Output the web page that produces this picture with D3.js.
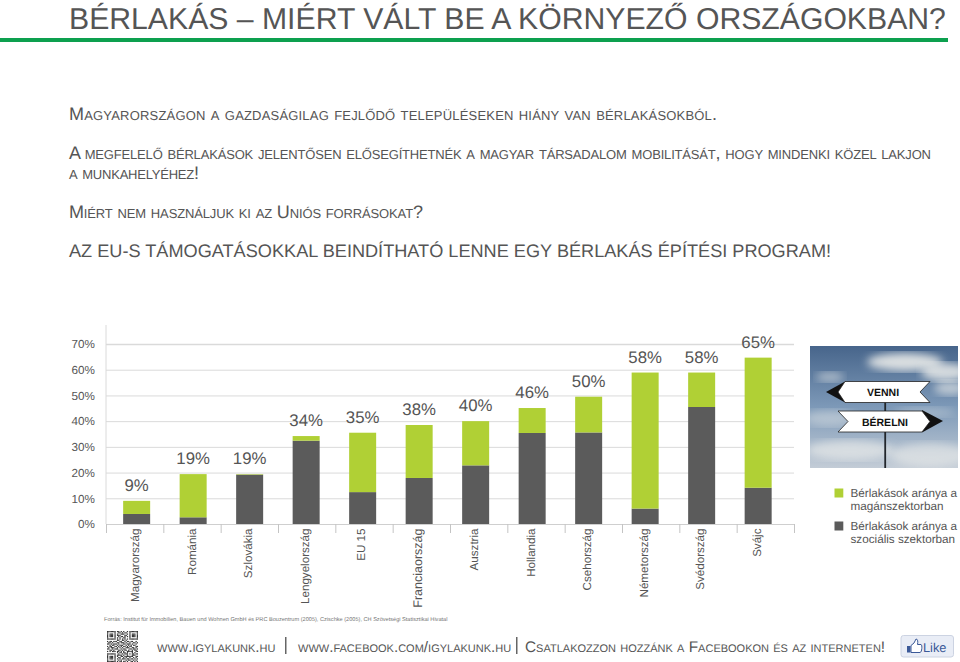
<!DOCTYPE html>
<html>
<head>
<meta charset="utf-8">
<script src="https://cdn.jsdelivr.net/npm/d3@7"></script>
<style>
body { margin: 0; background: #fff; overflow: hidden; }
text { font-family: "Liberation Sans", Arial, sans-serif; fill: #555; text-rendering: geometricPrecision; }
.caps { font-variant: small-caps; }
</style>
</head>
<body>
<script>
var categories = ["Magyarország", "Románia", "Szlovákia", "Lengyelország", "EU 15", "Franciaország",
    "Ausztria", "Hollandia", "Csehország", "Németország", "Svédország", "Svájc"];
var socialShare = [3.9, 2.6, 19.2, 32.4, 12.4, 17.9, 22.8, 35.4, 35.6, 6, 45.5, 14.1];
var privateShare = [5.1, 16.8, 0.2, 1.8, 23.1, 20.6, 17.2, 9.7, 13.9, 52.9, 13.4, 50.6];
var totalLabels = ["9%", "19%", "19%", "34%", "35%", "38%", "40%", "46%", "50%", "58%", "58%", "65%"];
var yTicks = [0, 10, 20, 30, 40, 50, 60, 70];
var legendLabels = [["Bérlakások aránya a", "magánszektorban"], ["Bérlakások aránya a", "szociális szektorban"]];

var green = "#b0d035";
var dark = "#5b5b5b";

var svg = d3.select("body").append("svg").attr("width", 960).attr("height", 662);

// Header
svg.append("text").attr("x", 69).attr("y", 29).attr("font-size", 30.2).text("BÉRLAKÁS – MIÉRT VÁLT BE A KÖRNYEZŐ ORSZÁGOKBAN?");
svg.append("rect").attr("x", 0).attr("y", 38).attr("width", 948).attr("height", 4).attr("fill", "#0da04f");

// small caps width jumps with font size, so the widths are fixed per line
var introLines = [
    ["Magyarországon a gazdaságilag fejlődő településeken hiány van bérlakásokból.", 120, 648],
    ["A megfelelő bérlakások jelentősen elősegíthetnék a magyar társadalom mobilitását, hogy mindenki közel lakjon", 159, 862],
    ["a munkahelyéhez!", 179, 130],
    ["Miért nem használjuk ki az Uniós forrásokat?", 218, 354]
];
svg.selectAll("text.intro").data(introLines).enter().append("text")
    .attr("class", "intro caps")
    .attr("x", 69).attr("y", function(d) { return d[1]; })
    .attr("font-size", 18)
    .attr("textLength", function(d) { return d[2]; })
    .attr("lengthAdjust", "spacing")
    .text(function(d) { return d[0]; });
svg.append("text").attr("x", 69).attr("y", 257).attr("font-size", 18.15)
    .text("AZ EU-S TÁMOGATÁSOKKAL BEINDÍTHATÓ LENNE EGY BÉRLAKÁS ÉPÍTÉSI PROGRAM!");

// Chart scales
var y = d3.scaleLinear().domain([0, 70]).range([524, 344]);
var tickX = d3.scaleLinear().domain([0, 12]).range([106, 794]);
var x = d3.scaleBand().domain(categories).range([108.4, 786.4]).paddingInner(0.522).paddingOuter(0.261);

var yAxis = svg.append("g")
    .attr("transform", "translate(106,0)")
    .call(d3.axisLeft(y).tickValues(yTicks).tickSize(-688).tickPadding(11).tickFormat(function(d) { return d + "%"; }));
yAxis.select(".domain").remove();
yAxis.selectAll("line").attr("stroke", "#dadada").attr("stroke-width", function(d) { return d === 70 ? 1.6 : 1; });
yAxis.selectAll("text").attr("font-size", 11.7).style("font-family", "Liberation Sans").attr("fill", "#666");

svg.append("line").attr("x1", 106).attr("x2", 106).attr("y1", 325).attr("y2", 524).attr("stroke", "#dadada");

var xAxis = svg.append("g")
    .attr("transform", "translate(0,524)")
    .call(d3.axisBottom(tickX).tickValues(d3.range(13)).tickSize(9).tickFormat(""));
xAxis.select(".domain").attr("stroke", "#cfcfcf");
xAxis.selectAll("line").attr("stroke", "#c4c4c4");

// Stacked bars
var rows = categories.map(function(c, i) {
    return { category: c, social: socialShare[i], priv: privateShare[i], label: totalLabels[i] };
});
var stack = d3.stack().keys(["social", "priv"])(rows);
var colors = { social: dark, priv: green };

svg.selectAll("g.series").data(stack).enter().append("g")
    .attr("class", "series")
    .attr("fill", function(d) { return colors[d.key]; })
    .selectAll("rect").data(function(d) { return d; }).enter().append("rect")
    .attr("x", function(d) { return x(d.data.category); })
    .attr("width", x.bandwidth())
    .attr("y", function(d) { return y(d[1]); })
    .attr("height", function(d) { return y(d[0]) - y(d[1]); });

svg.selectAll("text.total").data(rows).enter().append("text")
    .attr("class", "total")
    .attr("x", function(d) { return x(d.category) + x.bandwidth() / 2; })
    .attr("y", function(d) { return y(d.social + d.priv) - 10; })
    .attr("text-anchor", "middle")
    .attr("font-size", 16.8)
    .text(function(d) { return d.label; });

svg.selectAll("text.cat").data(categories).enter().append("text")
    .attr("class", "cat")
    .attr("transform", function(d) { return "translate(" + (x(d) + x.bandwidth() / 2 + 2.5) + ",528.5) rotate(-90)"; })
    .attr("text-anchor", "end")
    .attr("font-size", function(d) { return d === "Franciaország" ? 12.5 : 11.6; })
    .text(function(d) { return d; });

// Photo with the two signs
var defs = svg.append("defs");
var sky = defs.append("linearGradient").attr("id", "sky").attr("x1", 0).attr("x2", 0).attr("y1", 0).attr("y2", 1);
sky.append("stop").attr("offset", "0").attr("stop-color", "#47658b");
sky.append("stop").attr("offset", "0.5").attr("stop-color", "#7d99b8");
sky.append("stop").attr("offset", "1").attr("stop-color", "#c3ccd6");
defs.append("filter").attr("id", "blur").append("feGaussianBlur").attr("stdDeviation", 4);
defs.append("clipPath").attr("id", "photoClip").append("rect")
    .attr("x", 810).attr("y", 346).attr("width", 148).attr("height", 122);

var photo = svg.append("g").attr("clip-path", "url(#photoClip)");
photo.append("rect").attr("x", 810).attr("y", 346).attr("width", 148).attr("height", 122).attr("fill", "url(#sky)");
var clouds = [[905, 362, 38, 9, 0.85], [945, 372, 24, 9, 0.8], [830, 377, 14, 5, 0.5], [950, 388, 16, 7, 0.6],
    [830, 418, 26, 8, 0.4], [925, 412, 30, 5, 0.3], [850, 450, 44, 10, 0.6], [930, 455, 40, 12, 0.55]];
photo.selectAll("ellipse").data(clouds).enter().append("ellipse")
    .attr("cx", function(d) { return d[0]; }).attr("cy", function(d) { return d[1]; })
    .attr("rx", function(d) { return d[2]; }).attr("ry", function(d) { return d[3]; })
    .attr("fill", "#f2f2ee").attr("opacity", function(d) { return d[4]; })
    .attr("filter", "url(#blur)");
photo.append("rect").attr("x", 884.3).attr("y", 400).attr("width", 1.8).attr("height", 68).attr("fill", "#22262b");

photo.append("path").attr("d", "M826,392 L846,381 L846,403 Z").attr("fill", "#111");
photo.append("path").attr("d", "M838,392 L845,381.5 L930,381.5 L920,392 L930,402.5 L845,402.5 Z")
    .attr("fill", "#fff").attr("stroke", "#222").attr("stroke-width", 0.8);
photo.append("path").attr("d", "M922,410 L943,421 L922,432.5 Z").attr("fill", "#111");
photo.append("path").attr("d", "M838,411 L922,411 L930,421.5 L922,432 L838,432 L848,421.5 Z")
    .attr("fill", "#fff").attr("stroke", "#222").attr("stroke-width", 0.8);
photo.append("text").attr("x", 883).attr("y", 396).attr("text-anchor", "middle").attr("font-size", 10.5)
    .attr("font-weight", "bold").style("fill", "#111").text("VENNI");
photo.append("text").attr("x", 885).attr("y", 425.5).attr("text-anchor", "middle").attr("font-size", 10.5)
    .attr("font-weight", "bold").style("fill", "#111").text("BÉRELNI");

// Legend
var legend = svg.selectAll("g.legend").data(legendLabels).enter().append("g")
    .attr("class", "legend")
    .attr("transform", function(d, i) { return "translate(834.5," + (488.5 + i * 33) + ")"; });
legend.append("rect").attr("width", 8.8).attr("height", 9)
    .attr("fill", function(d, i) { return i === 0 ? green : dark; });
legend.append("text").attr("x", 16).attr("y", 8).attr("font-size", 11.7).text(function(d) { return d[0]; });
legend.append("text").attr("x", 16).attr("y", 21.7).attr("font-size", 11.7).text(function(d) { return d[1]; });

// Footer
svg.append("text").attr("x", 104).attr("y", 621).attr("font-size", 5.6).style("fill", "#777")
    .text("Forrás: Institut für Immobilien, Bauen und Wohnen GmbH és PRC Bouzentrum (2005), Czischke (2005), CH Szövetségi Statisztikai Hivatal");

var qrRows = [
    "1111111011010100101111111", "1000001001101011001000001", "1011101010011100101011101",
    "1011101011100011001011101", "1011101001011010101011101", "1000001010100110001000001",
    "1111111010101010101111111", "0000000011001101000000000", "1011011100110010110110010",
    "0110100011011101001001101", "1101011101000110111010010", "0010110010111001010101100",
    "1011001101010110101100011", "0101110010101001110011010", "1100101110010110001101101",
    "0011010001101011010010110", "1010111011010100111110011", "0000000010110110100010100",
    "1111111001001011101011011", "1000001011110100100011100", "1011101010011011111110011",
    "1011101001100101001001010", "1011101010101110110110101", "1000001001010001011001010",
    "1111111010110110100110101"
];
var qr = svg.append("g").attr("transform", "translate(107,631)");
qrRows.forEach(function(row, r) {
    row.split("").forEach(function(c, k) {
        if (c === "1") qr.append("rect").attr("x", k * 1.24).attr("y", r * 1.24)
            .attr("width", 1.24).attr("height", 1.24).attr("fill", "#333");
    });
});

svg.append("text").attr("class", "caps").attr("x", 157).attr("y", 652).attr("font-size", 15.3).text("www.igylakunk.hu");
svg.append("rect").attr("x", 285).attr("y", 637).attr("width", 1.5).attr("height", 17).attr("fill", "#666");
svg.append("text").attr("class", "caps").attr("x", 298).attr("y", 652).attr("font-size", 15.3).text("www.facebook.com/igylakunk.hu");
svg.append("rect").attr("x", 516).attr("y", 637).attr("width", 1.5).attr("height", 17).attr("fill", "#666");
svg.append("text").attr("class", "caps").attr("x", 525).attr("y", 652).attr("font-size", 15.4).text("Csatlakozzon hozzánk a Facebookon és az interneten!");

// Like button
svg.append("rect").attr("x", 901).attr("y", 635.5).attr("width", 52.5).attr("height", 21.5).attr("rx", 2.5)
    .attr("fill", "#e9edf6").attr("stroke", "#ccd3e2");
svg.append("rect").attr("x", 907).attr("y", 646).attr("width", 3.5).attr("height", 6.5).attr("fill", "#3b5998");
svg.append("path").attr("d", "M911,645.5 L914,643 L916,639 C918,639 918,642 917.5,644.5 L921,644.5 C922.5,644.5 922,652.5 920,652.5 L911,652.5 Z")
    .attr("fill", "#fff").attr("stroke", "#3b5998").attr("stroke-width", 1);
svg.append("text").attr("x", 923).attr("y", 652).attr("font-size", 12.8).style("fill", "#3b5998").text("Like");
</script>
</body>
</html>
